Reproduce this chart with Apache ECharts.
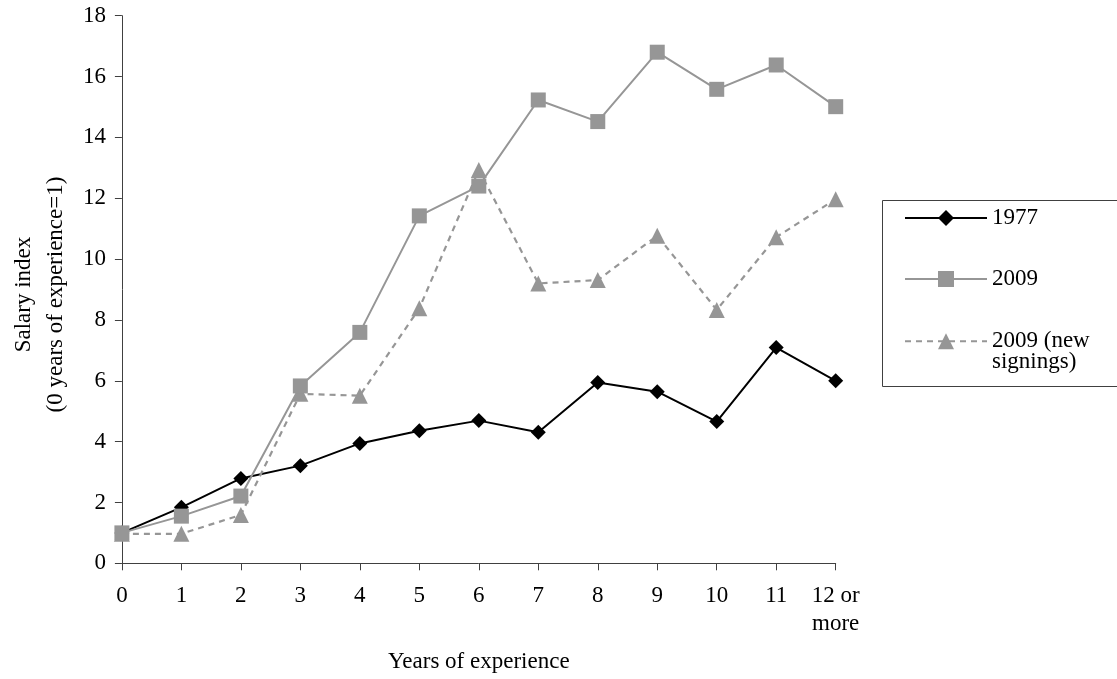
<!DOCTYPE html>
<html>
<head>
<meta charset="utf-8">
<script src="https://cdn.jsdelivr.net/npm/echarts@6/dist/echarts.min.js"></script>
<style>
  html, body { margin: 0; padding: 0; background: #fff; }
  #chart { width: 1117px; height: 679px; }
</style>
</head>
<body>
<div id="chart"></div>
<script>
const categories = ['0', '1', '2', '3', '4', '5', '6', '7', '8', '9', '10', '11', '12 or\nmore'];
const series1977 = [1.0, 1.84, 2.79, 3.21, 3.94, 4.36, 4.69, 4.31, 5.94, 5.64, 4.66, 7.09, 6.0];
const series2009 = [1.0, 1.55, 2.21, 5.83, 7.59, 11.42, 12.40, 15.23, 14.52, 16.80, 15.58, 16.38, 15.01];
const series2009New = [0.97, 0.97, 1.59, 5.57, 5.51, 8.38, 12.93, 9.20, 9.31, 10.77, 8.33, 10.72, 11.97];
const yTicks = { min: 0, max: 18, interval: 2 };

const FONT = "'Liberation Serif', 'Times New Roman', serif";
const GRAY = '#969696';

const chart = echarts.init(document.getElementById('chart'), null, { renderer: 'canvas' });
chart.setOption({
  backgroundColor: '#ffffff',
  animation: false,
  textStyle: { fontFamily: FONT },
  grid: { left: 115, right: 281.3, top: 15.7, bottom: 115.7, containLabel: false },
  xAxis: {
    type: 'category',
    data: categories,
    boundaryGap: false,
    name: 'Years of experience',
    nameLocation: 'middle',
    nameGap: 87,
    nameTextStyle: { fontFamily: FONT, fontSize: 23, color: '#000', lineHeight: 23 },
    axisLine: { show: true, lineStyle: { color: '#404040', width: 1 } },
    axisTick: { show: true, alignWithLabel: true, inside: false, length: 7, interval: 0, lineStyle: { color: '#404040' } },
    axisLabel: { interval: 0, margin: 19, fontFamily: FONT, fontSize: 23, color: '#000', lineHeight: 28 },
    splitLine: { show: false }
  },
  yAxis: {
    type: 'value',
    min: yTicks.min,
    max: yTicks.max,
    interval: yTicks.interval,
    name: 'Salary index\n(0 years of experience=1)',
    nameLocation: 'middle',
    nameGap: 47,
    nameTextStyle: { fontFamily: FONT, fontSize: 23, color: '#000', lineHeight: 32, padding: [0, 10, 0, 0] },
    axisLine: { show: true, lineStyle: { color: '#404040', width: 1 } },
    axisTick: { show: true, inside: false, length: 7, lineStyle: { color: '#404040' } },
    axisLabel: { margin: 16, fontFamily: FONT, fontSize: 23, color: '#000' },
    splitLine: { show: false }
  },
  legend: {
    orient: 'vertical',
    left: 904,
    top: 187.5,
    padding: 0,
    itemGap: 0,
    itemWidth: 82,
    itemHeight: 20,
    textStyle: { fontFamily: FONT, fontSize: 23, color: '#000' },
    formatter: function (name) {
      return name === '2009 (new signings)' ? '\n2009 (new\nsignings)' : name;
    },
    data: [
      { name: '1977', textStyle: { lineHeight: 61 } },
      { name: '2009', textStyle: { lineHeight: 61 } },
      { name: '2009 (new signings)', textStyle: { lineHeight: 20.33 } }
    ]
  },
  graphic: [
    {
      type: 'rect',
      silent: true,
      shape: { x: 882.5, y: 200.5, width: 260, height: 186 },
      style: { fill: 'none', stroke: '#404040', lineWidth: 1 }
    }
  ],
  series: [
    {
      name: '1977',
      type: 'line',
      data: series1977,
      z: 2,
      symbol: 'diamond',
      symbolSize: 15,
      color: '#000000',
      itemStyle: { color: '#000000' },
      lineStyle: { color: '#000000', width: 2 }
    },
    {
      name: '2009',
      type: 'line',
      data: series2009,
      z: 4,
      symbol: 'rect',
      symbolSize: 15,
      color: GRAY,
      itemStyle: { color: GRAY },
      lineStyle: { color: GRAY, width: 2 }
    },
    {
      name: '2009 (new signings)',
      type: 'line',
      data: series2009New,
      z: 3,
      symbol: 'triangle',
      symbolSize: 16,
      color: GRAY,
      itemStyle: { color: GRAY },
      lineStyle: { color: GRAY, width: 2.2, type: [6, 5] }
    }
  ]
});
</script>
</body>
</html>
